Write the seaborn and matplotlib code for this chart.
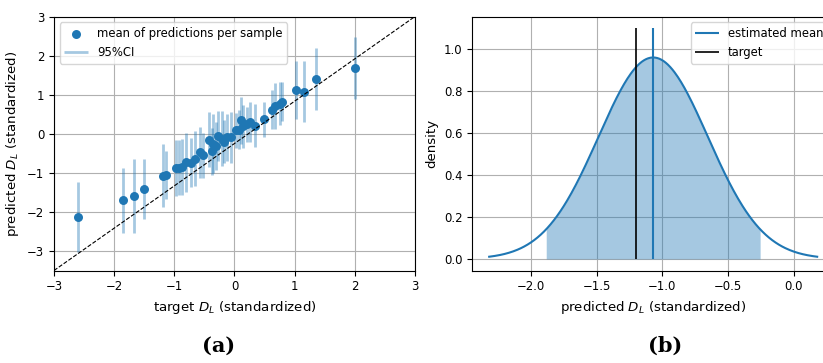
import numpy as np
import matplotlib
matplotlib.use("Agg")
import matplotlib.pyplot as plt
import seaborn as sns

# panel (a): target vs mean prediction, with 95% CI half-widths
target = [-2.60, -1.86, -1.67, -1.50, -1.19, -1.14, -0.98, -0.92, -0.87, -0.80,
          -0.72, -0.65, -0.58, -0.52, -0.42, -0.37, -0.35, -0.30, -0.27, -0.20,
          -0.18, -0.13, -0.05, 0.03, 0.07, 0.11, 0.14, 0.20, 0.26, 0.34,
          0.49, 0.62, 0.67, 0.75, 0.79, 1.03, 1.16, 1.35, 2.01]
pred_mean = [-2.13, -1.70, -1.60, -1.42, -1.07, -1.05, -0.87, -0.87, -0.85, -0.73,
             -0.74, -0.64, -0.47, -0.55, -0.15, -0.45, -0.25, -0.32, -0.06, -0.13,
             -0.21, -0.09, -0.09, 0.09, 0.10, 0.34, 0.19, 0.24, 0.30, 0.20,
             0.37, 0.62, 0.71, 0.77, 0.82, 1.13, 1.08, 1.40, 1.69]
ci_half = [0.90, 0.83, 0.95, 0.77, 0.81, 0.62, 0.72, 0.70, 0.72, 0.75,
           0.62, 0.70, 0.65, 0.58, 0.70, 0.60, 0.75, 0.62, 0.65, 0.70,
           0.55, 0.60, 0.65, 0.45, 0.50, 0.60, 0.55, 0.45, 0.50, 0.55,
           0.45, 0.50, 0.60, 0.55, 0.50, 0.74, 0.77, 0.79, 0.79]

# panel (b): predictive distribution for one sample
est_mean = -1.07
est_std = 0.4156
ci_low, ci_high = -1.885, -0.255
target_b = -1.20

fs = 8.4
lfs = 9.6
plt.rcParams['font.family'] = ['DejaVu Sans']
plt.rcParams['mathtext.fontset'] = 'dejavusans'
c0 = sns.color_palette()[0]

fig = plt.figure(figsize=(8.23, 3.63), dpi=100)
ax1 = fig.add_axes([0.0656, 0.2548, 0.4386, 0.6997])
ax2 = fig.add_axes([0.5739, 0.2548, 0.4395, 0.6997])

# (a)
ax1.grid(True, color='#b0b0b0', lw=0.8)
ax1.set_axisbelow(True)
t = np.array(target)
m = np.array(pred_mean)
h = np.array(ci_half)
ax1.vlines(t, m - h, m + h, color=c0, alpha=0.4, lw=2, label='95%CI', zorder=2)
sns.scatterplot(x=t, y=m, ax=ax1, color=c0, s=42, linewidth=0,
                label='mean of predictions per sample', zorder=3)
# diagonal drawn corner to corner of the axes
ax1.plot([0, 1], [0, 1], transform=ax1.transAxes, ls='--', color='black', lw=0.8, zorder=4)
ax1.set_xlim(-3, 3)
ax1.set_ylim(-3.5, 3)
ax1.set_xticks(range(-3, 4))
ax1.set_yticks(range(-3, 4))
ax1.set_xlabel('target $D_L$ (standardized)', fontsize=lfs)
ax1.set_ylabel('predicted $D_L$ (standardized)', fontsize=lfs)
ax1.tick_params(labelsize=fs)
handles, labels = ax1.get_legend_handles_labels()
order = [labels.index('mean of predictions per sample'), labels.index('95%CI')]
ax1.legend([handles[i] for i in order], [labels[i] for i in order],
           loc='upper left', fontsize=fs)

# (b)
xs = np.linspace(est_mean - 3 * est_std, est_mean + 3 * est_std, 300)
dens = np.exp(-0.5 * ((xs - est_mean) / est_std) ** 2) / (est_std * np.sqrt(2 * np.pi))
ax2.grid(True, color='#b0b0b0', lw=0.8)
ax2.set_axisbelow(True)
sel = (xs >= ci_low) & (xs <= ci_high)
ax2.fill_between(xs[sel], 0, dens[sel], color=c0, alpha=0.4, lw=0)
sns.lineplot(x=xs, y=dens, ax=ax2, color=c0, lw=1.5)
ax2.vlines(est_mean, 0, 1.1, color=c0, lw=1.5, label='estimated mean')
ax2.vlines(target_b, 0, 1.1, color='black', lw=1.2, label='target')
ax2.set_xlim(-2.445, 0.305)
ax2.set_ylim(-0.055, 1.155)
ax2.set_xticks([-2.0, -1.5, -1.0, -0.5, 0.0])
ax2.set_yticks([0.0, 0.2, 0.4, 0.6, 0.8, 1.0])
ax2.set_xlabel('predicted $D_L$ (standardized)', fontsize=lfs)
ax2.set_ylabel('density', fontsize=lfs)
ax2.tick_params(labelsize=fs)
ax2.legend(loc='upper right', fontsize=fs)

fig.text(0.265, 0.03, '(a)', ha='center', fontsize=15, fontweight='bold',
         family='DejaVu Serif')
fig.text(0.808, 0.03, '(b)', ha='center', fontsize=15, fontweight='bold',
         family='DejaVu Serif')

fig.savefig('out.png', dpi=100)
